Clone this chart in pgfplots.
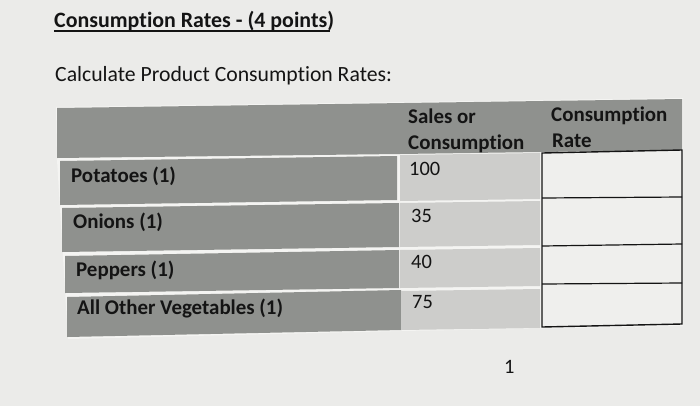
\documentclass[border=0pt]{standalone}
\usepackage{pgfplots}
\pgfplotsset{compat=1.18}
\usepackage{pgfplotstable}
\usepackage{fontspec}
\setmainfont[Ligatures=NoCommon]{Carlito}
\definecolor{bg}{HTML}{EBEBE9}
\definecolor{sep}{HTML}{F4F4F2}
\definecolor{dark}{HTML}{8F918E}
\definecolor{light}{HTML}{CDCDCB}
\definecolor{box}{HTML}{EFEFED}
\definecolor{ink}{HTML}{141414}

\pgfplotstableread[col sep=comma]{
x,y,label
71,182,Potatoes (1)
73,228,Onions (1)
76,276,Peppers (1)
77,314,All Other Vegetables (1)
408,123,Sales or
408,149,Consumption
551,121,Consumption
552,147,Rate
}\boldlabels

\pgfplotstableread[col sep=comma]{
x,y,value
409,175,100
411,222,35
411,268,40
412,308,75
}\salesvalues

\begin{document}
\begin{tikzpicture}
\begin{axis}[
  scale only axis, width=700bp, height=406bp,
  xmin=0, xmax=700, ymin=0, ymax=406, y dir=reverse,
  hide axis, clip=false,
]
% background
\addplot[fill=bg, draw=none] coordinates {(0,0)(700,0)(700,406)(0,406)} -- cycle;
% table white base
\addplot[fill=sep, draw=none] coordinates {(56,107)(683,98)(683,326)(401,331)(68,339)(57,160)} -- cycle;
% header
\addplot[fill=dark, draw=none] coordinates {(57,108)(682,99)(682,150)(540,152)(400,154)(57,158)} -- cycle;
% left cells
\addplot[fill=dark, draw=none] coordinates {(60,161)(397,156)(397,200)(60,205)} -- cycle;
\addplot[fill=dark, draw=none] coordinates {(62,208)(399,203)(399,247)(62,252)} -- cycle;
\addplot[fill=dark, draw=none] coordinates {(65,256)(399,250)(399,288)(65,293)} -- cycle;
\addplot[fill=dark, draw=none] coordinates {(67,297)(401,290)(401,330)(67,337)} -- cycle;
% middle cells
\addplot[fill=light, draw=none] coordinates {(400,155)(540,153)(540,199)(400,201)} -- cycle;
\addplot[fill=light, draw=none] coordinates {(400,203)(540,201)(540,245)(400,247)} -- cycle;
\addplot[fill=light, draw=none] coordinates {(400,250)(540,248)(540,286)(400,288)} -- cycle;
\addplot[fill=light, draw=none] coordinates {(401,291)(540,289)(540,328)(401,330)} -- cycle;
% right answer boxes
\addplot[fill=box, draw=ink, line width=1.4pt] coordinates {(542,153)(682,150)(682,324)(542,327)} -- cycle;
\addplot[draw=ink, line width=1.2pt] coordinates {(542,198)(682,197)};
\addplot[draw=ink, line width=1.2pt] coordinates {(542,246)(682,244)};
\addplot[draw=ink, line width=1.2pt] coordinates {(542,284)(682,283)};
% title underline
\addplot[draw=ink, line width=1.6pt] coordinates {(54,31)(330,31)};
% bold labels
\addplot[draw=none, mark=none, nodes near coords, point meta=explicit symbolic,
  every node near coord/.append style={anchor=base west, inner sep=0pt, text=ink, font=\fontsize{21}{23}\selectfont\bfseries}]
  table[x=x, y=y, meta=label]{\boldlabels};
% values
\addplot[draw=none, mark=none, nodes near coords, point meta=explicit symbolic,
  every node near coord/.append style={anchor=base west, inner sep=0pt, text=ink, font=\fontsize{20.5}{22}\selectfont}]
  table[x=x, y=y, meta=value]{\salesvalues};
% titles
\node[anchor=base west, inner sep=0pt, text=ink, font=\fontsize{22}{24}\selectfont\bfseries] at (axis cs:54,28) {Consumption Rates - (4 points)};
\node[anchor=base west, inner sep=0pt, text=ink, font=\fontsize{21.8}{24}\selectfont] at (axis cs:55,81) {Calculate Product Consumption Rates:};
\node[anchor=base west, inner sep=0pt, text=ink, font=\fontsize{20.5}{22}\selectfont] at (axis cs:504,373) {1};
\end{axis}
\end{tikzpicture}
\end{document}
